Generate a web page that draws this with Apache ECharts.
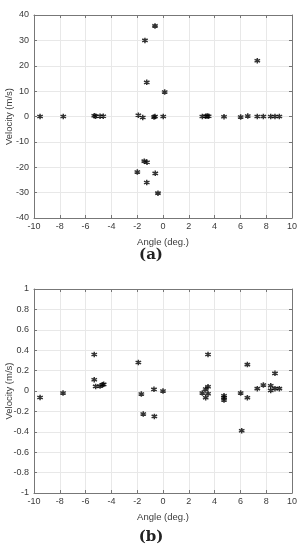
<!DOCTYPE html>
<html>
<head>
<meta charset="utf-8">
<script src="https://cdn.jsdelivr.net/npm/echarts@6/dist/echarts.min.js"></script>
<style>html,body{margin:0;padding:0;background:#fff;}#c{width:302px;height:550px;}</style>
</head>
<body>
<div id="c"></div>
<script>
// Panel (a): large-velocity detections
const angleA = [-0.62, -1.40, -1.26, 0.13, 7.31, -1.45, -1.24, -1.99, -0.60, -1.26, -0.39];
const velA = [35.7, 30.0, 13.45, 9.65, 21.96, -17.6, -18.0, -21.9, -22.4, -26.0, -30.2];
// Panel (a): near-zero detections
const angleA0 = [-9.53, -7.73, -5.33, -5.22, -4.88, -4.63, -1.91, -1.57, -0.70, -0.62, 0.02, 3.05, 3.31, 3.43, 3.54, 4.73, 6.02, 6.57, 7.31, 7.78, 8.35, 8.68, 9.02];
const velA0 = [0, 0, 0.3, 0.1, 0.1, 0.1, 0.5, -0.4, -0.2, 0, 0, 0, 0.1, 0.2, 0.1, -0.1, -0.2, 0.2, 0, 0, 0, 0, 0];
// Panel (b)
const angleB = [-9.53, -7.75, -5.33, -5.33, -5.22, -4.88, -4.68, -4.60, -1.91, -1.68, -1.53, -0.70, -0.67, 0.00, 3.05, 3.31, 3.31, 3.49, 3.49, 3.49, 4.73, 4.73, 4.73, 6.02, 6.10, 6.54, 6.54, 7.31, 7.78, 8.35, 8.35, 8.68, 8.68, 9.02];
const velB = [-0.063, -0.02, 0.358, 0.111, 0.045, 0.049, 0.062, 0.065, 0.279, -0.03, -0.226, 0.016, -0.249, 0.0, -0.02, 0.02, -0.066, 0.358, 0.042, -0.027, -0.046, -0.066, -0.089, -0.02, -0.39, 0.259, -0.066, 0.023, 0.059, 0.052, 0.006, 0.173, 0.023, 0.023];
const panelLabels = ['(a)', '(b)'];
const xName = 'Angle (deg.)';
const yName = 'Velocity (m/s)';

const zip = (xs, ys) => xs.map((x, i) => [x, ys[i]]);
const AX = '#777', LBL = '#3a3a3a', GRID = '#e8e8e8';
const FONT = 'Liberation Sans, Arial, sans-serif';
const star = 'path://M0,-1L0,1M-0.866,-0.5L0.866,0.5M-0.866,0.5L0.866,-0.5';

function xAx(gi, primary) {
  return {
    type: 'value', gridIndex: gi, min: -10, max: 10, interval: 2,
    position: primary ? 'bottom' : 'top',
    name: primary ? xName : '', nameLocation: 'middle', nameGap: 19, nameMoveOverlap: false,
    nameTextStyle: {fontFamily: FONT, fontSize: 9.5, color: LBL},
    axisLine: {show: true, onZero: false, lineStyle: {color: AX, width: 1}},
    axisTick: {show: true, inside: true, length: 3, lineStyle: {color: AX}},
    axisLabel: {show: primary, fontFamily: FONT, fontSize: 9, color: LBL, margin: 4},
    splitLine: {show: primary, lineStyle: {color: GRID, width: 1}}
  };
}
function yAx(gi, primary, mn, mx, iv) {
  return {
    type: 'value', gridIndex: gi, min: mn, max: mx, interval: iv,
    position: primary ? 'left' : 'right',
    name: primary ? yName : '', nameLocation: 'middle', nameGap: 20, nameMoveOverlap: false,
    nameTextStyle: {fontFamily: FONT, fontSize: 9.5, color: LBL},
    axisLine: {show: true, onZero: false, lineStyle: {color: AX, width: 1}},
    axisTick: {show: true, inside: true, length: 3, lineStyle: {color: AX}},
    axisLabel: {show: primary, fontFamily: FONT, fontSize: 9, color: LBL, margin: 5},
    splitLine: {show: primary, lineStyle: {color: GRID, width: 1}}
  };
}
function sc(xi, yi, data) {
  return {
    type: 'scatter', xAxisIndex: xi, yAxisIndex: yi, data: data,
    symbol: star, symbolSize: 5.5, silent: true,
    itemStyle: {color: 'rgba(0,0,0,0)', borderColor: '#000', borderWidth: 1.5}
  };
}
const chart = echarts.init(document.getElementById('c'), null, {renderer: 'canvas'});
chart.setOption({
  animation: false,
  backgroundColor: '#fff',
  title: [
    {text: panelLabels[0], left: 'center', top: 243, textStyle: {fontFamily: 'DejaVu Serif, Liberation Serif, serif', fontWeight: 'bold', fontSize: 15, color: '#222'}},
    {text: panelLabels[1], left: 'center', top: 525, textStyle: {fontFamily: 'DejaVu Serif, Liberation Serif, serif', fontWeight: 'bold', fontSize: 15, color: '#222'}}
  ],
  grid: [
    {left: 34, top: 15, width: 258, height: 203, containLabel: false, outerBoundsMode: 'none'},
    {left: 34, top: 289, width: 258, height: 204, containLabel: false, outerBoundsMode: 'none'}
  ],
  xAxis: [xAx(0, true), xAx(0, false), xAx(1, true), xAx(1, false)],
  yAxis: [yAx(0, true, -40, 40, 10), yAx(0, false, -40, 40, 10), yAx(1, true, -1, 1, 0.2), yAx(1, false, -1, 1, 0.2)],
  series: [
    sc(0, 0, zip(angleA0, velA0)),
    sc(0, 0, zip(angleA, velA)),
    sc(2, 2, zip(angleB, velB))
  ]
});
</script>
</body>
</html>
